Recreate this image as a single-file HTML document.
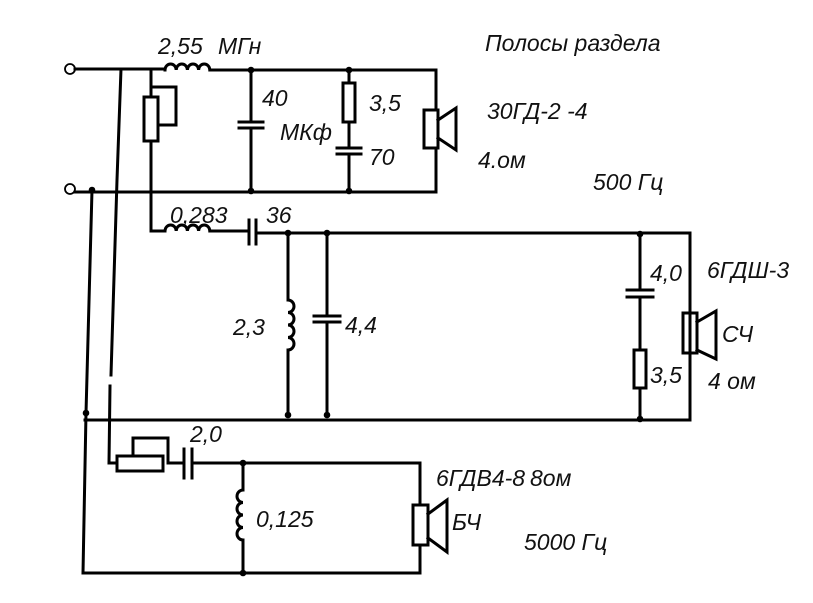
<!DOCTYPE html>
<html><head><meta charset="utf-8"><style>
html,body{margin:0;padding:0;background:#fff;}
svg{display:block;}
text{font-family:"Liberation Sans","DejaVu Sans",sans-serif;font-style:italic;font-size:23px;fill:#111;}
</style></head><body>
<svg width="813" height="603" viewBox="0 0 813 603" xmlns="http://www.w3.org/2000/svg">
<g stroke="#000" stroke-width="3" fill="none" stroke-linecap="square">
<circle cx="70" cy="69" r="5" stroke-width="1.8" fill="#fff"/>
<circle cx="70" cy="189" r="5" stroke-width="1.8" fill="#fff"/>
<path d="M75 69 H165 M210 70 H436 V110 M436 148 V192 H75"/>
<path d="M165 70 a5.6 6 0 0 1 11.2 0 a5.6 6 0 0 1 11.2 0 a5.6 6 0 0 1 11.2 0 a5.6 6 0 0 1 11.2 0"/>
<path d="M121 69 L117 180 L111 375"/>
<path d="M110 386 L109 463 H117"/>
<path d="M92 190 L86 413 L83 573"/>
<path d="M151 69 V97 M151 141 V231 H165"/>
<rect x="144" y="97" width="14" height="44"/>
<path d="M151 87 H176 V125 H158"/>
<path d="M251 70 V122 M251 128 V191 M239 122 H263 M239 128 H263"/>
<rect x="343" y="83" width="12" height="39"/>
<path d="M349 70 V83 M349 122 V148 M349 154 V191 M337 148 H361 M337 154 H361"/>
<rect x="424" y="110" width="14" height="38"/>
<path d="M438 120 L456 108 V150 L438 138"/>
<path d="M165 231 a5.6 6 0 0 1 11.2 0 a5.6 6 0 0 1 11.2 0 a5.6 6 0 0 1 11.2 0 a5.6 6 0 0 1 11.2 0"/>
<path d="M210 231 H249 M249 220 V244 M256 220 V244 M256 233 H690 V420 H85"/>
<path d="M288 233 V300 M288 350 V415"/>
<path d="M288 300 a6 6.25 0 0 1 0 12.5 a6 6.25 0 0 1 0 12.5 a6 6.25 0 0 1 0 12.5 a6 6.25 0 0 1 0 12.5"/>
<path d="M327 233 V316 M327 322 V415 M314 316 H340 M314 322 H340"/>
<path d="M640 234 V290 M640 297 V350 M640 388 V419 M627 290 H653 M627 297 H653"/>
<rect x="634" y="350" width="12" height="38"/>
<rect x="683" y="313" width="14" height="40"/>
<path d="M697 322 L716 311 V359 L697 350"/>
<rect x="117" y="456" width="46" height="15"/>
<path d="M133 456 V438 H168 V463 H184 M184 449 V478 M192 449 V478 M192 463 H420 V505 M420 545 V573 H83"/>
<path d="M243 463 V490 M243 540 V573"/>
<path d="M243 490 a6 6.25 0 0 0 0 12.5 a6 6.25 0 0 0 0 12.5 a6 6.25 0 0 0 0 12.5 a6 6.25 0 0 0 0 12.5"/>
<rect x="413" y="505" width="15" height="40"/>
<path d="M428 514 L447 500 V552 L428 538"/>
</g>
<g fill="#000">
<circle cx="251" cy="70" r="3.3"/><circle cx="349" cy="70" r="3.3"/>
<circle cx="92" cy="190" r="3.3"/><circle cx="251" cy="191" r="3.3"/><circle cx="349" cy="191" r="3.3"/>
<circle cx="288" cy="233" r="3.3"/><circle cx="327" cy="233" r="3.3"/><circle cx="640" cy="234" r="3.3"/>
<circle cx="86" cy="413" r="3.3"/><circle cx="288" cy="415" r="3.3"/><circle cx="327" cy="415" r="3.3"/><circle cx="640" cy="419" r="3.3"/>
<circle cx="243" cy="463" r="3.3"/><circle cx="243" cy="573" r="3.3"/>
</g>
<text x="158" y="54">2,55</text><text x="218" y="54">МГн</text>
<text x="485" y="51">Полосы раздела</text>
<text x="262" y="106">40</text>
<text x="280" y="140">МКф</text>
<text x="369" y="111">3,5</text>
<text x="369" y="165">70</text>
<text x="487" y="119">30ГД-2 -4</text>
<text x="478" y="168">4.ом</text>
<text x="593" y="190">500 Гц</text>
<text x="170" y="223">0,283</text>
<text x="266" y="223">36</text>
<text x="707" y="278">6ГДШ-3</text>
<text x="650" y="281">4,0</text>
<text x="233" y="335">2,3</text>
<text x="345" y="333">4,4</text>
<text x="722" y="342">СЧ</text>
<text x="650" y="383">3,5</text>
<text x="708" y="389">4 ом</text>
<text x="190" y="442">2,0</text>
<text x="436" y="486">6ГДВ4-8</text><text x="530" y="486">8ом</text>
<text x="256" y="527">0,125</text>
<text x="452" y="530">БЧ</text>
<text x="524" y="550">5000 Гц</text>
</svg>
</body></html>
